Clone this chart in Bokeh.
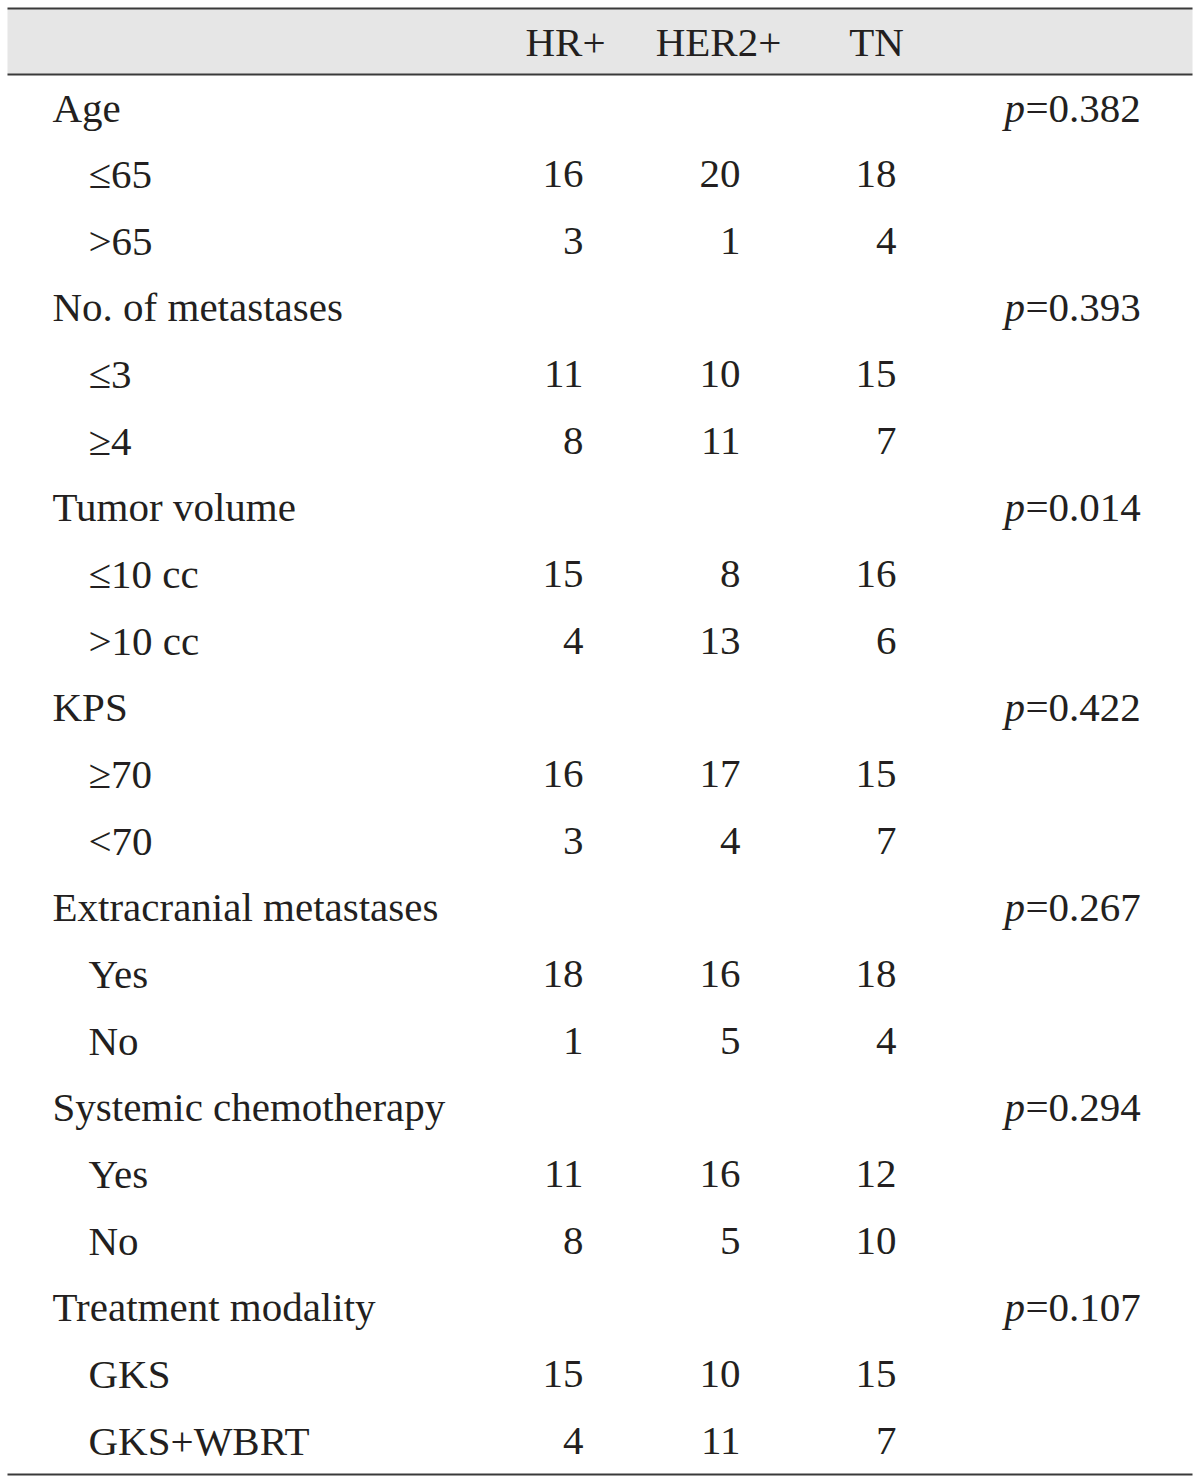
from bokeh.plotting import figure
from bokeh.models import Range1d
from bokeh.core.properties import value
from bokeh.embed import file_html
from bokeh.resources import INLINE

# ---- data ----
columns = ["HR+", "HER2+", "TN"]
groups = ["Age", "No. of metastases", "Tumor volume", "KPS",
          "Extracranial metastases", "Systemic chemotherapy", "Treatment modality"]
p_values = ["0.382", "0.393", "0.014", "0.422", "0.267", "0.294", "0.107"]
sub_labels = [["≤65", ">65"], ["≤3", "≥4"], ["≤10 cc", ">10 cc"], ["≥70", "<70"],
              ["Yes", "No"], ["Yes", "No"], ["GKS", "GKS+WBRT"]]
hr_pos = [16, 3, 11, 8, 15, 4, 16, 3, 18, 1, 11, 8, 15, 4]
her2_pos = [20, 1, 10, 11, 8, 13, 17, 4, 16, 5, 16, 5, 10, 11]
tn = [18, 4, 15, 7, 16, 6, 15, 7, 18, 4, 12, 10, 15, 7]

# ---- layout constants (pixel-like coordinates) ----
FONT = value("Liberation Serif")
FS = "41px"
TXT = "#231f20"
X0, X1 = 7, 1192
TOP, HEAD_BOT, BOT = 8, 74, 1474
HEAD_BASE = 41
ROW0, PITCH = 107, 66.65
GROUP_X, SUB_X = 52, 88
NUM_RIGHT = [583, 740, 896]
HEAD_CX = [565, 718, 876]
P_X, PVAL_X = 1004, 1025

p = figure(width=1200, height=1482, output_backend="svg", toolbar_location=None,
           x_range=Range1d(0, 1200), y_range=Range1d(1482, 0),
           min_border=0, outline_line_color=None)
p.axis.visible = False
p.grid.visible = False
p.background_fill_color = "white"
p.border_fill_color = "white"

# header band and rules
p.quad(left=[X0], right=[X1], top=[TOP], bottom=[HEAD_BOT], fill_color="#e6e6e6", line_color=None)
p.segment(x0=[X0] * 3, x1=[X1] * 3, y0=[TOP, HEAD_BOT, BOT], y1=[TOP, HEAD_BOT, BOT],
          line_color="#3a3a3a", line_width=2)

# header text
p.text(x=HEAD_CX, y=[HEAD_BASE] * 3, text=columns, text_font=FONT, text_font_size=FS,
       text_color=TXT, text_align="center", text_baseline="alphabetic")

# rows
g_y, g_t, pv_t = [], [], []
s_y, s_t = [], []
n_x, n_y, n_t = [], [], []
row = 0
k = 0
for gi, g in enumerate(groups):
    y = ROW0 + PITCH * row
    g_y.append(y); g_t.append(g)
    pv_t.append("=" + p_values[gi])
    row += 1
    for s in sub_labels[gi]:
        y = ROW0 + PITCH * row
        s_y.append(y); s_t.append(s)
        for ci, arr in enumerate([hr_pos, her2_pos, tn]):
            n_x.append(NUM_RIGHT[ci]); n_y.append(y); n_t.append(str(arr[k]))
        k += 1
        row += 1

p.text(x=[GROUP_X] * len(g_y), y=g_y, text=g_t, text_font=FONT, text_font_size=FS,
       text_color=TXT, text_align="left", text_baseline="alphabetic")
p.text(x=[SUB_X] * len(s_y), y=s_y, text=s_t, text_font=FONT, text_font_size=FS,
       text_color=TXT, text_align="left", text_baseline="alphabetic")
p.text(x=n_x, y=n_y, text=n_t, text_font=FONT, text_font_size=FS,
       text_color=TXT, text_align="right", text_baseline="alphabetic")
p.text(x=[P_X] * len(g_y), y=g_y, text=["p"] * len(g_y), text_font=FONT, text_font_size=FS,
       text_font_style="italic", text_color=TXT, text_align="left", text_baseline="alphabetic")
p.text(x=[PVAL_X] * len(g_y), y=g_y, text=pv_t, text_font=FONT, text_font_size=FS,
       text_color=TXT, text_align="left", text_baseline="alphabetic")

open("out.html", "w").write(file_html(p, INLINE))
